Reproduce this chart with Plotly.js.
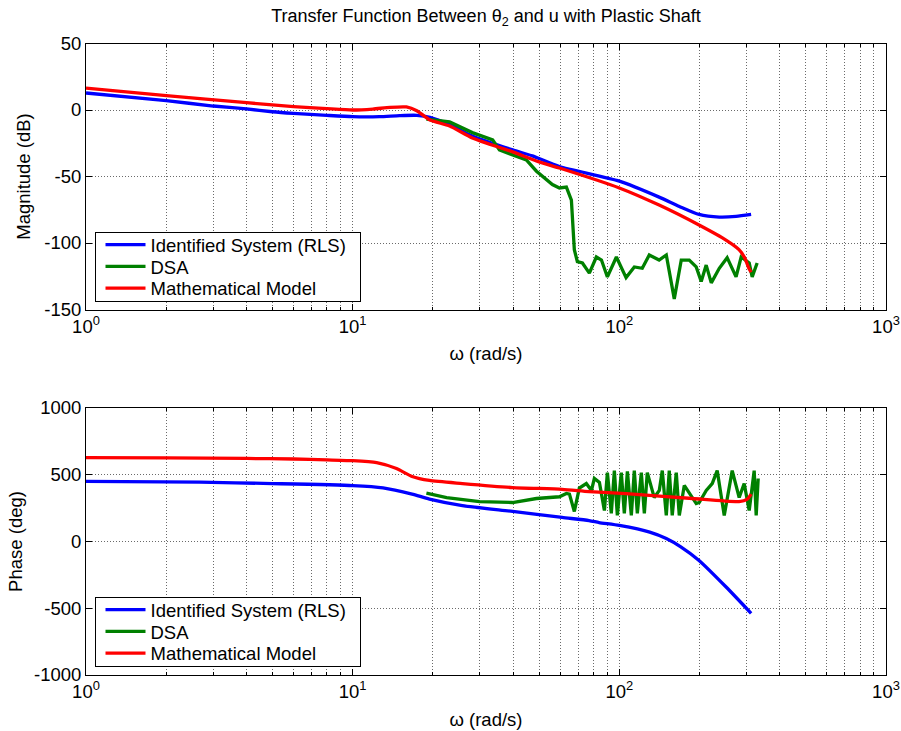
<!DOCTYPE html>
<html>
<head>
<meta charset="utf-8">
<script src="https://cdn.plot.ly/plotly-3.0.1.min.js"></script>
<style>
  html, body { margin: 0; padding: 0; background: #fff; }
  #chart { width: 901px; height: 731px; }
</style>
</head>
<body>
<div id="chart"></div>
<script>
// Bode plot of theta_2 / u for the plastic-shaft rig: identified model, DSA measurement, and analytic model.

// Series names
const SERIES_NAMES = ['Identified System (RLS)', 'DSA', 'Mathematical Model'];

// Magnitude (dB)
const OMEGA_RLS_MAG = [1, 2, 3, 4, 5, 6, 8, 10, 12.6, 15, 17.4, 19.5, 23.1, 28.1, 39.8, 47.2, 59.6, 100, 141, 168, 199, 237, 274, 312];
const MAG_RLS = [12.8, 7, 3, 0.8, -1.3, -2.5, -4, -5, -5, -4.2, -4, -5.5, -11, -19.5, -30, -34.5, -42.5, -53.5, -65.5, -72.5, -78.5, -80.5, -80, -78.5];

const OMEGA_DSA_MAG = [18.9, 23.1, 28.1, 33.5, 35.5, 39.8, 44.8, 48.9, 56.1, 59.6, 63.3, 66.1, 67.8, 69.6, 72.7, 77.2, 82.0, 85.7, 90.2, 97.5, 100, 106, 113.8, 121.9, 129.5, 141, 150, 160.7, 170.7, 182.9, 194.2, 202.8, 211.7, 221.2, 237, 253.7, 274, 286.3, 306.9, 314.9, 328.7];
const MAG_DSA = [-6.8, -9, -17, -22.5, -30, -34, -37.6, -46, -56, -58.6, -58, -67.7, -105, -114, -115, -122.6, -110.5, -112.8, -125.5, -110.5, -115, -126, -118, -119, -109, -112.8, -109, -142, -112.8, -112.8, -118, -129, -116.6, -130, -119, -111, -125.5, -110.5, -115, -125.5, -115];

const OMEGA_MODEL_MAG = [1, 2, 4, 6, 8, 10, 11.9, 13.8, 15.9, 17.4, 19.5, 23.1, 28.1, 39.8, 50, 59.6, 100, 141, 199, 252, 281, 295, 306, 312];
const MAG_MODEL = [16.5, 10.8, 5.5, 2.5, 1, 0, 0.7, 2.0, 2.3, -0.5, -7.5, -12, -21, -31.5, -39, -43.6, -58.6, -71.5, -86.5, -98, -105, -111, -119, -122];

// Phase (deg)
const OMEGA_RLS_PH = [1, 2.67, 5, 10, 13, 16.7, 19.4, 25.8, 39.8, 61, 77, 84, 100, 130, 150, 170, 199, 252, 312];
const PH_RLS = [451, 444, 434, 419, 402, 355, 318, 269, 225, 180, 157, 142, 120, 70, 22, -40, -142, -343, -538];

const OMEGA_DSA_PH = [18.9, 22.5, 29.9, 39.75, 48.9, 59.6, 63.3, 65.0, 67.8, 70.8, 75.2, 78.6, 80.6, 84.2, 87.9, 90.2, 93.3, 95.8, 98.3, 101.7, 104.4, 107.2, 110.9, 113.8, 116.8, 120.9, 124.1, 127.3, 135.2, 141.2, 144.9, 150.0, 153.9, 157.9, 163.5, 167.8, 175.2, 194.3, 199.4, 211.8, 223.0, 232.8, 247.4, 258.2, 265.0, 281.5, 293.9, 306.9, 320.4, 326.0, 331.7];
const PH_DSA = [362, 329, 299, 292, 322, 335, 360, 355, 225, 400, 434, 382, 472, 442, 232, 516, 210, 531, 195, 516, 210, 525, 195, 531, 210, 516, 210, 516, 329, 382, 531, 195, 531, 195, 516, 195, 420, 284, 292, 382, 434, 531, 195, 420, 531, 329, 434, 232, 531, 195, 472];

const OMEGA_MODEL_PH = [1, 2, 4, 6, 8, 10, 12.3, 14.6, 16.7, 19.4, 25.8, 39.8, 61, 77, 106, 188, 281, 301, 312];
const PH_MODEL = [628, 626, 622, 618, 612, 605, 590, 546, 487, 457, 434, 404, 391, 374, 359, 322, 299, 315, 355];

// Axis ticks
const X_DECADES = [1, 10, 100, 1000];
const X_DECADE_LABELS = ['10<sup>0</sup>', '10<sup>1</sup>', '10<sup>2</sup>', '10<sup>3</sup>'];
const X_MINOR = [2, 3, 4, 5, 6, 7, 8, 9, 20, 30, 40, 50, 60, 70, 80, 90, 200, 300, 400, 500, 600, 700, 800, 900];
const MAG_TICKS = [-150, -100, -50, 0, 50];
const MAG_TICK_LABELS = ['-150', '-100', '-50', '0', '50'];
const PH_TICKS = [-1000, -500, 0, 500, 1000];
const PH_TICK_LABELS = ['-1000', '-500', '0', '500', '1000'];

const COLORS = ['#0000ff', '#008000', '#ff0000'];
const FONT = 'Liberation Sans, Arial, Helvetica, sans-serif';
const FS = 18.5;
const GRID = '#6a6a6a';
const DASH = '1px,2px';

function line(x, y, i, xa, ya, legend, smooth) {
  return {
    x: x, y: y, type: 'scatter', mode: 'lines',
    name: SERIES_NAMES[i], xaxis: xa, yaxis: ya, legend: legend,
    line: smooth ? { color: COLORS[i], width: 3.3, shape: 'spline', smoothing: 0.6 }
                 : { color: COLORS[i], width: 3.3 }
  };
}

const traces = [
  line(OMEGA_RLS_MAG, MAG_RLS, 0, 'x', 'y', 'legend', true),
  line(OMEGA_DSA_MAG, MAG_DSA, 1, 'x', 'y', 'legend', false),
  line(OMEGA_MODEL_MAG, MAG_MODEL, 2, 'x', 'y', 'legend', true),
  line(OMEGA_RLS_PH, PH_RLS, 0, 'x2', 'y2', 'legend2', true),
  line(OMEGA_DSA_PH, PH_DSA, 1, 'x2', 'y2', 'legend2', false),
  line(OMEGA_MODEL_PH, PH_MODEL, 2, 'x2', 'y2', 'legend2', true)
];

function xAxis(anchor) {
  return {
    type: 'log', range: [0, 3], domain: [0, 1], anchor: anchor,
    tickmode: 'array', tickvals: X_DECADES, ticktext: X_DECADE_LABELS,
    ticks: 'inside', ticklen: 6, tickcolor: '#000', tickwidth: 1,
    showline: true, linecolor: '#000', linewidth: 1, mirror: 'ticks',
    showgrid: true, gridcolor: GRID, gridwidth: 1, griddash: DASH,
    minor: { tickmode: 'array', tickvals: X_MINOR, ticks: 'inside', ticklen: 3, tickcolor: '#000',
             showgrid: true, gridcolor: GRID, gridwidth: 1, griddash: DASH },
    zeroline: false, fixedrange: true,
    tickfont: { family: FONT, size: FS, color: '#000' },
    title: { text: 'ω (rad/s)', font: { family: FONT, size: FS, color: '#000' }, standoff: 11 }
  };
}

function yAxis(anchor, domain, range, vals, text, label, standoff) {
  return {
    range: range, domain: domain, anchor: anchor,
    tickmode: 'array', tickvals: vals, ticktext: text,
    ticks: 'inside', ticklen: 6, tickcolor: '#000', tickwidth: 1,
    showline: true, linecolor: '#000', linewidth: 1, mirror: 'ticks',
    showgrid: true, gridcolor: GRID, gridwidth: 1, griddash: DASH,
    zeroline: false, fixedrange: true,
    tickfont: { family: FONT, size: FS, color: '#000' },
    title: { text: label, font: { family: FONT, size: FS, color: '#000' }, standoff: standoff }
  };
}

function legendBox(y) {
  return {
    x: 0.01125, xanchor: 'left', y: y, yanchor: 'top',
    bgcolor: '#fff', bordercolor: '#000', borderwidth: 1,
    font: { family: FONT, size: FS, color: '#000' },
    itemwidth: 40,
    tracegroupgap: 0, itemclick: false, itemdoubleclick: false
  };
}

const layout = {
  width: 901, height: 731,
  margin: { l: 86, r: 15, t: 43, b: 56 },
  paper_bgcolor: '#fff', plot_bgcolor: '#fff',
  font: { family: FONT, size: FS, color: '#000' },
  title: {
    text: 'Transfer Function Between θ<sub>2</sub> and u with Plastic Shaft',
    font: { family: FONT, size: 18, color: '#000' },
    x: 0.5, xref: 'paper', xanchor: 'center',
    y: 0.978, yref: 'container', yanchor: 'middle'
  },
  xaxis: xAxis('y'),
  yaxis: yAxis('x', [0.5783, 0.9992], [-150, 50], MAG_TICKS, MAG_TICK_LABELS, 'Magnitude (dB)', 8),
  xaxis2: xAxis('y2'),
  yaxis2: yAxis('x2', [0, 0.4225], [-1000, 1000], PH_TICKS, PH_TICK_LABELS, 'Phase (deg)', 6),
  legend: legendBox(0.7014),
  legend2: legendBox(0.1239),
  showlegend: true
};

// Compact legend rows: fixed box size, row pitch and sample offset.
const LEGEND_BOX = { width: 265, height: 69.5, firstRow: 12.5, rowPitch: 21.7, sampleLeft: 10 };

function compactLegends(gd) {
  ['legend', 'legend2'].forEach(function (cls) {
    const g = gd.querySelector('g.' + cls);
    if (!g) return;
    const bg = g.querySelector('rect.bg');
    if (!bg) return;
    bg.setAttribute('width', LEGEND_BOX.width);
    bg.setAttribute('height', LEGEND_BOX.height);
    const box = bg.getBoundingClientRect();
    g.querySelectorAll('g.traces').forEach(function (item, i) {
      const sample = item.querySelector('g.legendlines path') || item.querySelector('path');
      if (!sample) return;
      const tf = item.getAttribute('transform') || '';
      const m = /translate\(\s*([-\d.eE]+)[ ,]+([-\d.eE]+)\s*\)/.exec(tf);
      let tx = m ? parseFloat(m[1]) : 0, ty = m ? parseFloat(m[2]) : 0;
      const r = sample.getBoundingClientRect();
      tx += (box.left + LEGEND_BOX.sampleLeft) - r.left;
      ty += (box.top + LEGEND_BOX.firstRow + i * LEGEND_BOX.rowPitch) - (r.top + r.height / 2);
      item.setAttribute('transform', 'translate(' + tx + ',' + ty + ')');
    });
  });
}

Plotly.newPlot('chart', traces, layout, { staticPlot: true, displayModeBar: false })
  .then(compactLegends);
</script>
</body>
</html>
